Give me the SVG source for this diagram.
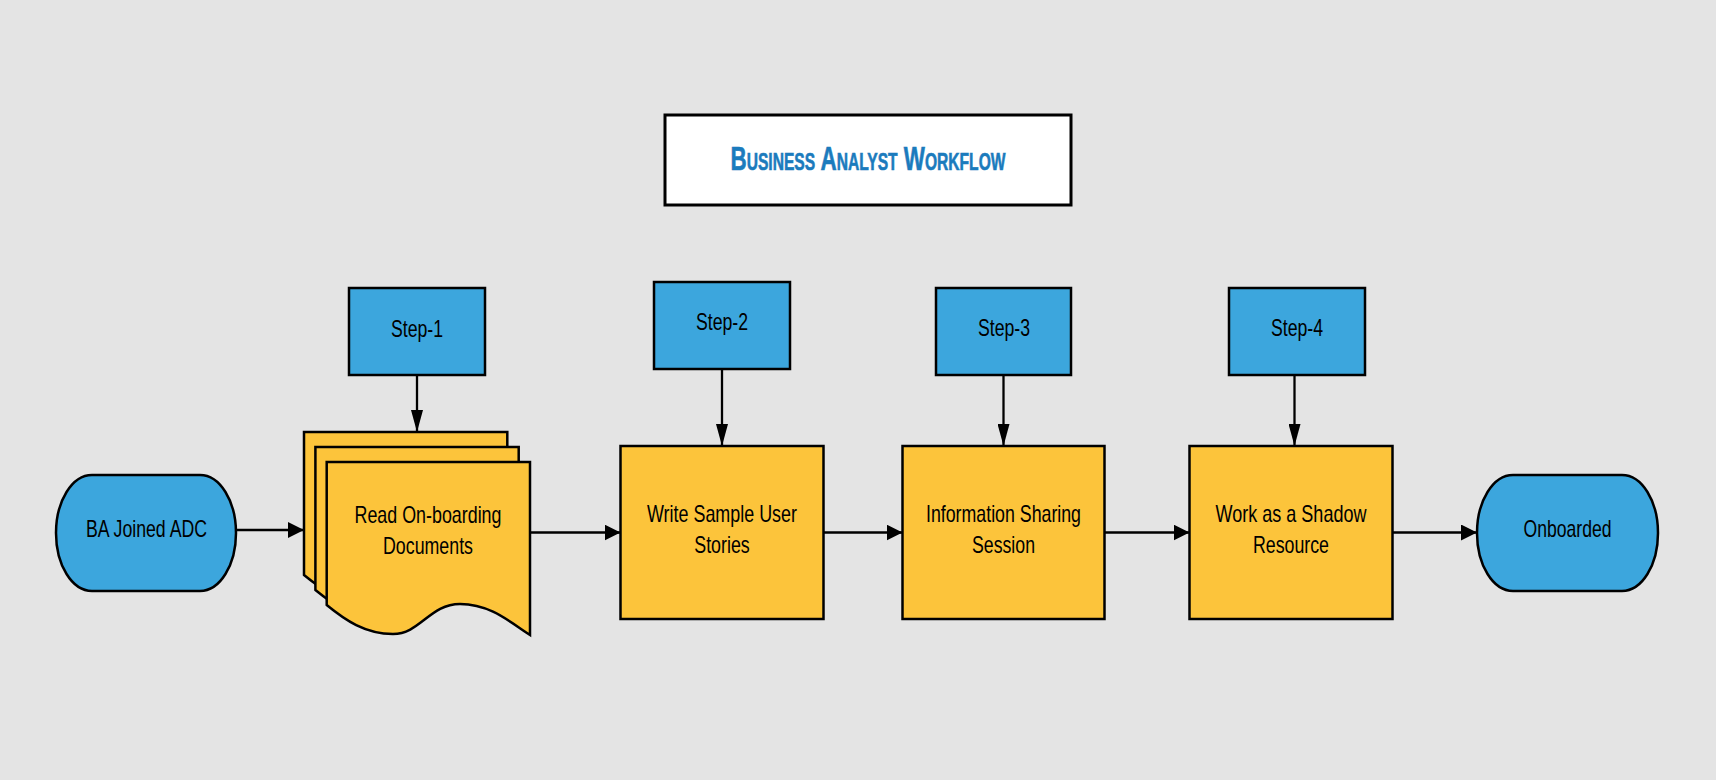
<svg xmlns="http://www.w3.org/2000/svg" xmlns:xlink="http://www.w3.org/1999/xlink" width="1716" height="780" viewBox="0 0 1716 780">
<style>
.bg{fill:#e4e4e4}
.blue{fill:#3ca6dd;stroke:#000;stroke-width:2.5}
.yel{fill:#fcc43b;stroke:#000;stroke-width:2.5}
.lbl{font-family:"Liberation Sans Narrow","Liberation Sans",Arial,sans-serif;font-size:24px;fill:#000;text-anchor:middle}
.title{font-family:"Liberation Sans Narrow","Liberation Sans",Arial,sans-serif;font-size:33px;font-weight:bold;font-variant:small-caps;fill:#1b7bbd;stroke:#1b7bbd;stroke-width:0.6;text-anchor:middle}
.conn path{fill:none;stroke:#000;stroke-width:2.3}
.h{marker-end:url(#ah)}
.v{marker-end:url(#av)}
</style>
<defs>
<marker id="ah" markerUnits="userSpaceOnUse" viewBox="0 0 16 16" markerWidth="16" markerHeight="16" refX="16" refY="8" orient="auto"><path d="M0,0 L16,8 L0,16 Z" fill="#000"/></marker>
<marker id="av" markerUnits="userSpaceOnUse" viewBox="0 0 22 12" markerWidth="22" markerHeight="12" refX="22" refY="6" orient="auto"><path d="M0,0 L22,6 L0,12 Z" fill="#000"/></marker>
<path id="page" d="M326.7,462 H530 V635 C510,622 490,604 460,604 C430,604 420,634 393,634 C365,634 345,620 326.7,605 Z"/>
</defs>
<rect class="bg" x="0" y="0" width="1716" height="780"/>

<g id="title">
<rect x="665" y="115" width="406" height="90" fill="#fff" stroke="#000" stroke-width="3"/>
<text class="title" x="868" y="170" textLength="275" lengthAdjust="spacingAndGlyphs">Business Analyst Workflow</text>
</g>

<g id="step1">
<rect class="blue" x="349" y="288" width="136" height="87"/>
<text class="lbl" x="417" y="337" textLength="52" lengthAdjust="spacingAndGlyphs">Step-1</text>
</g>
<g id="step2">
<rect class="blue" x="654" y="282" width="136" height="87"/>
<text class="lbl" x="722" y="330" textLength="52" lengthAdjust="spacingAndGlyphs">Step-2</text>
</g>
<g id="step3">
<rect class="blue" x="936" y="288" width="135" height="87"/>
<text class="lbl" x="1004" y="336" textLength="52" lengthAdjust="spacingAndGlyphs">Step-3</text>
</g>
<g id="step4">
<rect class="blue" x="1229" y="288" width="136" height="87"/>
<text class="lbl" x="1297" y="336" textLength="52" lengthAdjust="spacingAndGlyphs">Step-4</text>
</g>

<g id="ba-joined">
<rect class="blue" x="56" y="475" width="180" height="116" rx="36" ry="58"/>
<text class="lbl" x="146.5" y="537" textLength="121" lengthAdjust="spacingAndGlyphs">BA Joined ADC</text>
</g>

<g id="read-docs">
<use href="#page" xlink:href="#page" class="yel" transform="translate(-22.7,-30)"/>
<use href="#page" xlink:href="#page" class="yel" transform="translate(-11.3,-15)"/>
<use href="#page" xlink:href="#page" class="yel"/>
<text class="lbl" x="428" y="523" textLength="147" lengthAdjust="spacingAndGlyphs">Read On-boarding</text>
<text class="lbl" x="428" y="554" textLength="90" lengthAdjust="spacingAndGlyphs">Documents</text>
</g>

<g id="write-stories">
<rect class="yel" x="620.5" y="446" width="203" height="173"/>
<text class="lbl" x="722" y="522" textLength="150" lengthAdjust="spacingAndGlyphs">Write Sample User</text>
<text class="lbl" x="722" y="553" textLength="55.5" lengthAdjust="spacingAndGlyphs">Stories</text>
</g>

<g id="info-session">
<rect class="yel" x="902.5" y="446" width="202" height="173"/>
<text class="lbl" x="1003.5" y="522" textLength="155" lengthAdjust="spacingAndGlyphs">Information Sharing</text>
<text class="lbl" x="1003.5" y="553" textLength="63" lengthAdjust="spacingAndGlyphs">Session</text>
</g>

<g id="shadow">
<rect class="yel" x="1189.5" y="446" width="203" height="173"/>
<text class="lbl" x="1291" y="522" textLength="151" lengthAdjust="spacingAndGlyphs">Work as a Shadow</text>
<text class="lbl" x="1291" y="553" textLength="76" lengthAdjust="spacingAndGlyphs">Resource</text>
</g>

<g id="onboarded">
<rect class="blue" x="1477" y="475" width="181" height="116" rx="36" ry="58"/>
<text class="lbl" x="1567.5" y="537" textLength="88" lengthAdjust="spacingAndGlyphs">Onboarded</text>
</g>

<g id="connectors" class="conn">
<path class="h" d="M236,530 H304"/>
<path class="h" d="M530,532.5 H620.5"/>
<path class="h" d="M823.5,532.5 H902.5"/>
<path class="h" d="M1104.5,532.5 H1189.5"/>
<path class="h" d="M1392.5,532.5 H1477"/>
<path class="v" d="M417,375 V432"/>
<path class="v" d="M722,369 V446"/>
<path class="v" d="M1003.5,375 V446"/>
<path class="v" d="M1294.5,375 V446"/>
</g>
</svg>
